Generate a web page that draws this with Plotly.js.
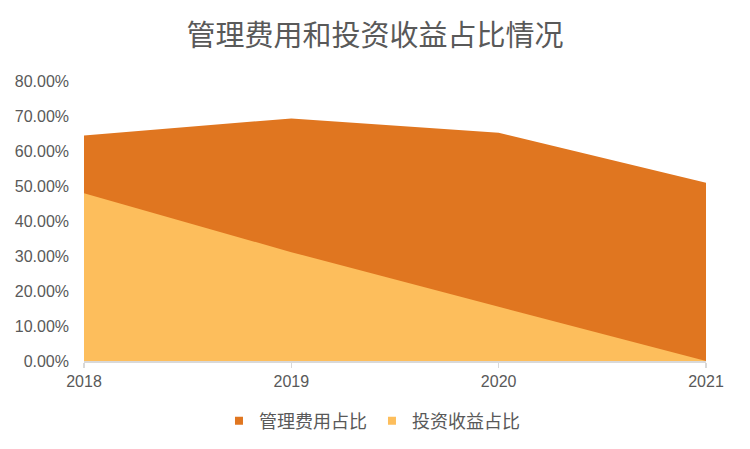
<!DOCTYPE html>
<html>
<head>
<meta charset="utf-8">
<script src="https://cdn.plot.ly/plotly-3.0.1.min.js"></script>
<style>html,body{margin:0;padding:0;background:#fff;}#chart{width:750px;height:449px;}</style>
</head>
<body>
<div id="chart"></div>
<script>
const years = ['2018', '2019', '2020', '2021'];
const mgmtRatio = [0.644, 0.693, 0.652, 0.509];
const investRatio = [0.479, 0.311, 0.155, 0.0];
const seriesNames = ['管理费用占比', '投资收益占比'];
const seriesColors = ['#E07620', '#FDBE5C'];
const chartTitle = '管理费用和投资收益占比情况';

const cjk = '"Noto Sans CJK SC", "Liberation Sans", Arial, sans-serif';
const txt = '#595959';

const seriesData = [mgmtRatio, investRatio];
const traces = [];
seriesData.forEach((vals, i) => {
  traces.push({
    type: 'scatter', mode: 'lines', x: years, y: vals, name: seriesNames[i],
    fill: 'tozeroy', fillcolor: seriesColors[i], line: {width: 0, color: seriesColors[i]},
    showlegend: false, legendgroup: 'g' + i
  });
});
seriesData.forEach((vals, i) => {
  traces.push({
    type: 'scatter', mode: 'markers', x: [null], y: [null], name: seriesNames[i],
    marker: {symbol: 'square', size: 8, color: seriesColors[i]},
    showlegend: true, legendgroup: 'g' + i
  });
});

const layout = {
  width: 750, height: 449,
  margin: {l: 84, r: 44, t: 81, b: 88, autoexpand: false},
  paper_bgcolor: '#ffffff', plot_bgcolor: '#ffffff',
  font: {family: cjk, color: txt},
  title: {
    text: chartTitle, x: 0.5, xref: 'container', xanchor: 'center',
    y: 1 - 36 / 449, yref: 'container', yanchor: 'middle',
    font: {family: cjk, size: 29, color: txt}
  },
  xaxis: {
    type: 'category', range: [0, 3], showgrid: false, zeroline: false,
    showline: true, linecolor: '#d9d9d9', linewidth: 1.5,
    ticks: 'outside', ticklen: 5, tickcolor: '#d9d9d9', tickwidth: 1.5,
    tickfont: {family: '"Liberation Sans", Arial, sans-serif', size: 16, color: txt}
  },
  yaxis: {
    range: [0, 0.8], dtick: 0.1, tick0: 0, tickformat: '.2%',
    showgrid: false, zeroline: false, showline: false, ticks: '',
    ticklabelstandoff: 14,
    tickfont: {family: '"Liberation Sans", Arial, sans-serif', size: 16, color: txt}
  },
  showlegend: true,
  legend: {
    orientation: 'h', x: 0.463, xanchor: 'center', y: (361 - 421) / 280, yanchor: 'middle',
    font: {family: cjk, size: 18, color: txt}, itemwidth: 30, traceorder: 'normal'
  }
};

Plotly.newPlot('chart', traces, layout, {displayModeBar: false, staticPlot: true});
</script>
</body>
</html>
